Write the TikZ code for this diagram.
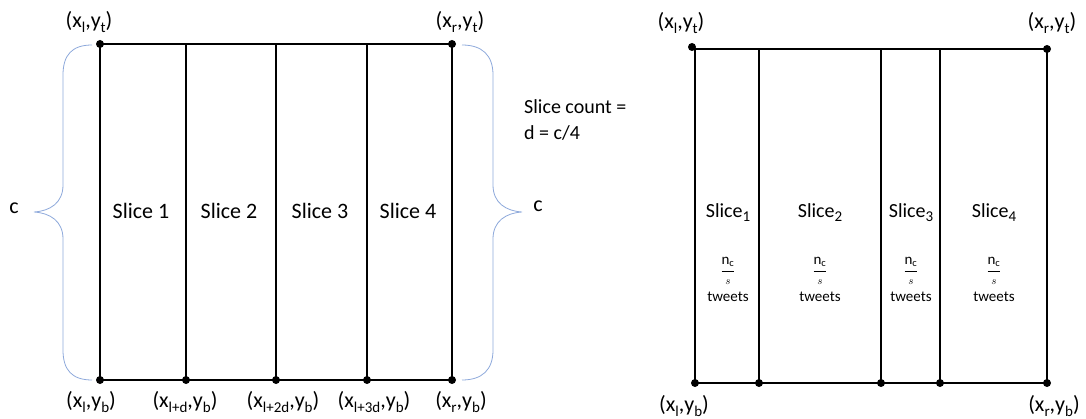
\documentclass[tikz,border=0pt]{standalone}
\usepackage{fontspec}
\usepackage{amsmath}
\setmainfont{Carlito}
\definecolor{bracecol}{HTML}{8EA9DB}
\tikzset{
  frame/.style={line width=2.5pt, black},
  divider/.style={line width=1.2pt, black},
  dot/.style={circle, fill=black, inner sep=0pt, minimum size=8pt},
  lbl/.style={font=\fontsize{22}{24}\selectfont, inner sep=0pt},
  slicetxt/.style={font=\fontsize{22}{24}\selectfont, inner sep=0pt},
  rslicetxt/.style={font=\fontsize{20}{22}\selectfont, inner sep=0pt},
  small/.style={font=\fontsize{15}{17}\selectfont, inner sep=0pt, align=center},
  brace/.style={bracecol, line width=0.8pt},
}
\newcommand\sbs[1]{\raisebox{-0.2em}{\fontsize{15}{15}\selectfont #1}}
\begin{document}
\begin{tikzpicture}[x=1pt,y=-1pt]
\useasboundingbox (0,0) rectangle (1086,419);
% ---------- left rectangle ----------
\coordinate (LTL) at (100,44);
\coordinate (LTR) at (452,44);
\coordinate (LBL) at (100,380);
\coordinate (LBR) at (452,380);
\coordinate (LT1) at (186,44); \coordinate (LB1) at (186,380);
\coordinate (LT2) at (276,44); \coordinate (LB2) at (276,380);
\coordinate (LT3) at (367,44); \coordinate (LB3) at (367,380);
\draw[divider] (LT1) -- (LB1);
\draw[divider] (LT2) -- (LB2);
\draw[divider] (LT3) -- (LB3);
\draw[frame] (LTL) -- (LTR) -- (LBR) -- (LBL) -- cycle;
\foreach \p in {LTL,LTR,LBL,LBR,LB1,LB2,LB3} \node[dot] at (\p) {};
\node[slicetxt] (s1) at (141,211) {Slice 1};
\node[slicetxt] (s2) at (229,211) {Slice 2};
\node[slicetxt] (s3) at (320,211) {Slice 3};
\node[slicetxt] (s4) at (408,211) {Slice 4};
\node[lbl] (ltl) at (89,22) {(x\sbs{l},y\sbs{t})};
\node[lbl] (ltr) at (460,22) {(x\sbs{r},y\sbs{t})};
\node[lbl] (lbl) at (91,402) {(x\sbs{l},y\sbs{b})};
\node[lbl] (lb1) at (185,402) {(x\sbs{l+d},y\sbs{b})};
\node[lbl] (lb2) at (283,402) {(x\sbs{l+2d},y\sbs{b})};
\node[lbl] (lb3) at (374,402) {(x\sbs{l+3d},y\sbs{b})};
\node[lbl] (lbr) at (461,402) {(x\sbs{r},y\sbs{b})};
% braces
\draw[brace] (92,45) .. controls (72,45) and (63,55) .. (63,75) -- (63,185)
  .. controls (63,203) and (50,211) .. (34,212)
  .. controls (50,213) and (63,221) .. (63,239) -- (63,350)
  .. controls (63,370) and (72,380) .. (92,380);
\draw[brace] (462,45) .. controls (482,45) and (493,55) .. (493,75) -- (493,185)
  .. controls (493,203) and (506,211) .. (522,212)
  .. controls (506,213) and (493,221) .. (493,239) -- (493,350)
  .. controls (493,370) and (482,380) .. (462,380);
\node[lbl] (cl) at (14,208) {c};
\node[lbl] (cr) at (538,206) {c};
% slice count text
\node[lbl, anchor=west, align=left, font=\fontsize{20}{26}\selectfont] (sc) at (524,120) {Slice count =\\d = c/4};
% ---------- right rectangle ----------
\coordinate (RTL) at (695,49);
\coordinate (RTR) at (1047,49);
\coordinate (RBL) at (695,383);
\coordinate (RBR) at (1047,383);
\coordinate (RT1) at (759,49); \coordinate (RB1) at (759,383);
\coordinate (RT2) at (881,49); \coordinate (RB2) at (881,383);
\coordinate (RT3) at (940,49); \coordinate (RB3) at (940,383);
\draw[divider] (RT1) -- (RB1);
\draw[divider] (RT2) -- (RB2);
\draw[divider] (RT3) -- (RB3);
\draw[frame] (RTL) -- (RTR) -- (RBR) -- (RBL) -- cycle;
\node[dot] at (692,47) {};
\foreach \p in {RTR,RBL,RBR,RB1,RB2,RB3} \node[dot] at (\p) {};
\node[rslicetxt] (r1) at (728,213) {Slice\sbs{1}};
\node[rslicetxt] (r2) at (820,213) {Slice\sbs{2}};
\node[rslicetxt] (r3) at (911,213) {Slice\sbs{3}};
\node[rslicetxt] (r4) at (994,213) {Slice\sbs{4}};
\foreach \n/\x in {1/728,2/820,3/911,4/994}{
  \node[small] (f\n) at (\x,271) {$\genfrac{}{}{0.6pt}{0}{\text{n}_{\text{c}}}{\scriptstyle s}$};
  \node[small] (t\n) at (\x,297) {tweets};
}
\node[lbl] (rtl) at (681,23) {(x\sbs{l},y\sbs{t})};
\node[lbl] (rtr) at (1052,23) {(x\sbs{r},y\sbs{t})};
\node[lbl] (rbl) at (684,406) {(x\sbs{l},y\sbs{b})};
\node[lbl] (rbr) at (1054,406) {(x\sbs{r},y\sbs{b})};
\end{tikzpicture}
\end{document}
